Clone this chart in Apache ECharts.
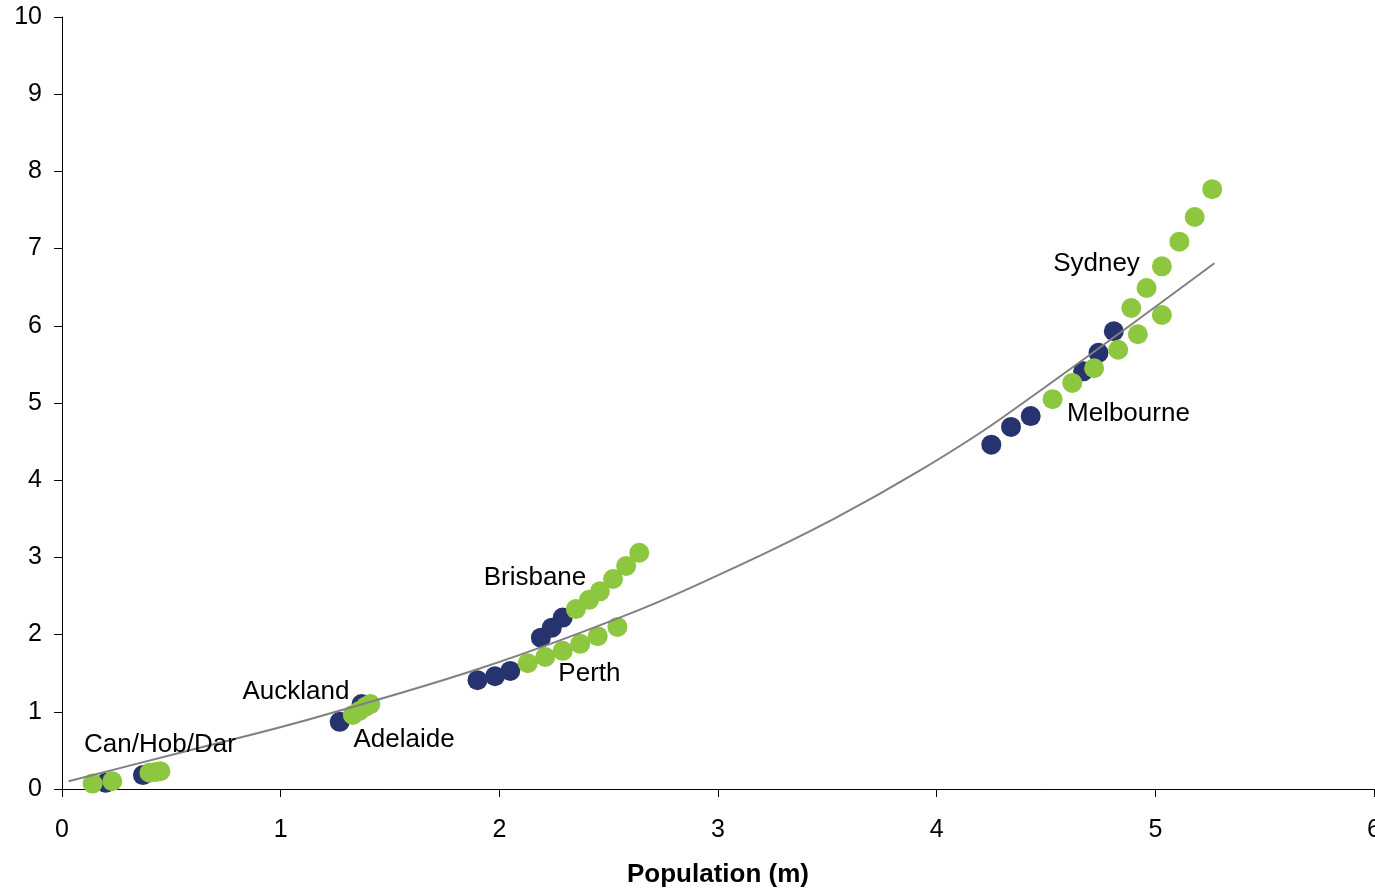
<!DOCTYPE html>
<html>
<head>
<meta charset="utf-8">
<script src="https://cdn.jsdelivr.net/npm/echarts@6/dist/echarts.min.js"></script>
<style>
  html, body { margin: 0; padding: 0; background: #ffffff; }
  #chart { width: 1375px; height: 889px; }
</style>
</head>
<body>
<div id="chart"></div>
<script>
// City observations, [population (m), value]
const earlierPoints = [
  [0.20, 0.08], [0.37, 0.18],
  [1.27, 0.87], [1.37, 1.10],
  [1.90, 1.41], [1.98, 1.46], [2.05, 1.53],
  [2.19, 1.96], [2.24, 2.09], [2.29, 2.22],
  [4.25, 4.46], [4.34, 4.69], [4.43, 4.83],
  [4.67, 5.41], [4.74, 5.65], [4.81, 5.93]
];
const laterPoints = [
  [0.14, 0.07], [0.23, 0.10], [0.40, 0.21], [0.43, 0.22], [0.45, 0.23],
  [1.33, 0.96], [1.36, 1.01], [1.39, 1.07], [1.41, 1.10],
  [2.13, 1.63], [2.21, 1.71], [2.29, 1.79], [2.37, 1.88], [2.45, 1.98], [2.54, 2.10],
  [2.35, 2.33], [2.41, 2.45], [2.46, 2.56], [2.52, 2.72], [2.58, 2.89], [2.64, 3.06],
  [4.53, 5.05], [4.62, 5.26], [4.72, 5.45], [4.83, 5.69], [4.92, 5.89], [5.03, 6.14],
  [4.89, 6.23], [4.96, 6.49], [5.03, 6.77], [5.11, 7.09], [5.18, 7.41], [5.26, 7.77]
];
// Fitted trend curve
const trendPoints = [
  [0.03, 0.10], [0.54, 0.47], [1.09, 0.87], [1.91, 1.56], [2.64, 2.32],
  [3.10, 2.90], [3.53, 3.50], [3.92, 4.12], [4.29, 4.79], [5.27, 6.81]
];
// City name labels and where they sit
const cityNames = ['Can/Hob/Dar', 'Auckland', 'Adelaide', 'Brisbane', 'Perth', 'Sydney', 'Melbourne'];
const cityLabelPos = [
  [0.448, 0.57], [1.070, 1.256], [1.564, 0.635], [2.163, 2.733],
  [2.412, 1.49], [4.731, 6.80], [4.877, 4.857]
];
const xTicks = [0, 1, 2, 3, 4, 5, 6];
const yTicks = [0, 1, 2, 3, 4, 5, 6, 7, 8, 9, 10];

const FONT = '"Liberation Sans", Arial, Helvetica, sans-serif';

const chart = echarts.init(document.getElementById('chart'), null, { renderer: 'canvas' });

const axisCommon = {
  axisLine: { show: true, onZero: false, lineStyle: { color: '#000', width: 1 } },
  axisTick: { show: true, inside: false, length: 8, lineStyle: { color: '#000', width: 1 } },
  splitLine: { show: false },
  axisLabel: { color: '#000', fontFamily: FONT, fontSize: 25 }
};

chart.setOption({
  animation: false,
  backgroundColor: '#ffffff',
  grid: { left: 62, right: 1, top: 17, bottom: 100, containLabel: false, outerBoundsMode: 'none' },
  xAxis: Object.assign({}, axisCommon, {
    type: 'value',
    min: xTicks[0],
    max: xTicks[xTicks.length - 1],
    interval: 1,
    name: 'Population (m)',
    nameLocation: 'middle',
    nameGap: 73,
    nameTextStyle: { color: '#000', fontFamily: FONT, fontSize: 26, fontWeight: 'bold' },
    axisLabel: Object.assign({}, axisCommon.axisLabel, { margin: 29 })
  }),
  yAxis: Object.assign({}, axisCommon, {
    type: 'value',
    min: yTicks[0],
    max: yTicks[yTicks.length - 1],
    interval: 1,
    axisLabel: Object.assign({}, axisCommon.axisLabel, { margin: 20 })
  }),
  series: [
    {
      type: 'scatter',
      data: earlierPoints,
      symbol: 'circle',
      symbolSize: 20,
      itemStyle: { color: '#26336f', opacity: 1 },
      z: 2
    },
    {
      type: 'scatter',
      data: laterPoints,
      symbol: 'circle',
      symbolSize: 20,
      itemStyle: { color: '#8dc63f', opacity: 1 },
      z: 3
    },
    {
      type: 'line',
      data: trendPoints,
      smooth: 0.35,
      showSymbol: false,
      lineStyle: { color: '#808080', width: 2 },
      silent: true,
      z: 4
    },
    {
      type: 'scatter',
      data: cityLabelPos.map((p, i) => ({ value: p, name: cityNames[i] })),
      symbolSize: 0,
      silent: true,
      itemStyle: { opacity: 1 },
      label: {
        show: true,
        position: 'inside',
        formatter: (d) => d.name,
        color: '#000',
        textBorderWidth: 0,
        fontFamily: FONT,
        fontSize: 26,
        align: 'center',
        verticalAlign: 'middle'
      },
      z: 5
    }
  ]
});
</script>
</body>
</html>
